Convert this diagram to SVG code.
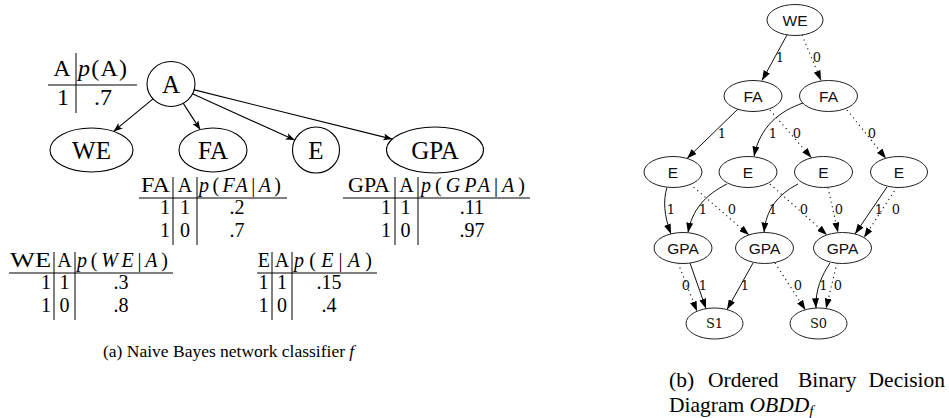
<svg xmlns="http://www.w3.org/2000/svg" width="949" height="418" viewBox="0 0 949 418">
<defs>
<style>
.n{fill:#fff;stroke:#000;stroke-width:1.1}
.bn{fill:#fff;stroke:#222;stroke-width:1}
.nl{font-family:"Liberation Serif","Times New Roman",serif;font-size:25px;text-anchor:middle;fill:#000}
.t{font-family:"Liberation Serif","Times New Roman",serif;font-size:20px;fill:#000}
.tb{font-family:"Liberation Serif","Times New Roman",serif;font-size:24px;fill:#000}
.m{text-anchor:middle}
.e{text-anchor:end}
.i{font-style:italic}
.rule{stroke:#000;stroke-width:1}
.le{fill:none;stroke:#000;stroke-width:1.1;marker-end:url(#la)}
.bs{fill:none;stroke:#111;stroke-width:1;marker-end:url(#ga)}
.bd{fill:none;stroke:#111;stroke-width:1.1;stroke-dasharray:1.2 3.6;marker-end:url(#ga)}
.bl{font-family:"Liberation Sans",Arial,sans-serif;font-size:15.5px;text-anchor:middle;fill:#111}
.sl{font-family:"DejaVu Serif",serif;font-size:13px;text-anchor:middle;fill:#111}
.el{font-family:"DejaVu Serif",serif;font-size:13px;text-anchor:middle;fill:#111}
.cap{font-family:"Liberation Serif","Times New Roman",serif;font-size:17.5px;fill:#000}
.capb{font-family:"Liberation Serif","Times New Roman",serif;font-size:21.5px;fill:#000}
</style>
<marker id="la" viewBox="0 0 9 7" refX="9" refY="3.5" markerWidth="9" markerHeight="7" orient="auto" markerUnits="userSpaceOnUse">
<path d="M0,0 L9,3.5 L0,7 L2.2,3.5 z" fill="#000"/>
</marker>
<marker id="ga" viewBox="0 0 10 7" refX="10" refY="3.5" markerWidth="10" markerHeight="7" orient="auto" markerUnits="userSpaceOnUse">
<path d="M0,0 L10,3.5 L0,7 z" fill="#000"/>
</marker>
</defs>
<rect width="949" height="418" fill="#fff"/>

<!-- Left: Naive Bayes network -->
<g id="connectors-a">
<path class="le" d="M153.3,98.7 L113.6,131.4"/>
<path class="le" d="M183.3,103.4 L200.2,129.6"/>
<path class="le" d="M191.9,93.5 L294.7,140.1"/>
<path class="le" d="M193.3,89.6 L392.2,139.1"/>
</g>
<g id="node-A"><ellipse class="n" cx="171" cy="84" rx="24" ry="22.5"/><text class="nl" x="171" y="92.5">A</text></g>
<g id="node-WE"><ellipse class="n" cx="91.5" cy="150" rx="41.5" ry="22"/><text class="nl" x="91.5" y="158.5">WE</text></g>
<g id="node-FA"><ellipse class="n" cx="213" cy="150" rx="34" ry="22"/><text class="nl" x="213" y="158.5">FA</text></g>
<g id="node-E"><ellipse class="n" cx="316" cy="150" rx="23.5" ry="23"/><text class="nl" x="316" y="158.5">E</text></g>
<g id="node-GPA"><ellipse class="n" cx="435" cy="150" rx="48.5" ry="23"/><text class="nl" x="435" y="158.5">GPA</text></g>

<!-- Tables -->
<g id="table-A">
<line class="rule" x1="76" y1="53" x2="76" y2="113"/>
<line class="rule" x1="48" y1="85" x2="137" y2="85"/>
<text class="tb m" x="62" y="76">A</text>
<text class="tb" x="78" y="76" textLength="49"><tspan class="i">p</tspan>(A)</text>
<text class="tb e" x="69" y="105">1</text>
<text class="tb m" x="103" y="105">.7</text>
</g>

<g id="table-FA">
<line class="rule" x1="173" y1="177" x2="173" y2="245"/>
<line class="rule" x1="197" y1="177" x2="197" y2="245"/>
<line class="rule" x1="139" y1="198" x2="287" y2="198"/>
<text class="t" x="141" y="192" textLength="29" lengthAdjust="spacingAndGlyphs">FA</text>
<text class="t m" x="185" y="192">A</text>
<text class="t" x="199" y="192" textLength="82"><tspan class="i">p</tspan>(<tspan class="i">FA</tspan>|<tspan class="i">A</tspan>)</text>
<text class="t e" x="170" y="214">1</text><text class="t m" x="185" y="214">1</text><text class="t m" x="237" y="214">.2</text>
<text class="t e" x="170" y="237">1</text><text class="t m" x="185" y="237">0</text><text class="t m" x="237" y="237">.7</text>
</g>

<g id="table-GPA">
<line class="rule" x1="395" y1="177" x2="395" y2="245"/>
<line class="rule" x1="418" y1="177" x2="418" y2="245"/>
<line class="rule" x1="343" y1="198" x2="530" y2="198"/>
<text class="t" x="348" y="192" textLength="42" lengthAdjust="spacingAndGlyphs">GPA</text>
<text class="t m" x="406.5" y="192">A</text>
<text class="t" x="421" y="192" textLength="104"><tspan class="i">p</tspan>(<tspan class="i">GPA</tspan>|<tspan class="i">A</tspan>)</text>
<text class="t e" x="391" y="214">1</text><text class="t m" x="405.5" y="214">1</text><text class="t m" x="472" y="214">.11</text>
<text class="t e" x="391" y="237">1</text><text class="t m" x="405.5" y="237">0</text><text class="t m" x="472" y="237">.97</text>
</g>

<g id="table-WE">
<line class="rule" x1="54" y1="252" x2="54" y2="320"/>
<line class="rule" x1="75" y1="252" x2="75" y2="320"/>
<line class="rule" x1="9" y1="273" x2="173" y2="273"/>
<text class="t" x="10" y="267" textLength="41" lengthAdjust="spacingAndGlyphs">WE</text>
<text class="t m" x="64.5" y="267">A</text>
<text class="t" x="77" y="267" textLength="91"><tspan class="i">p</tspan>(<tspan class="i">WE</tspan>|<tspan class="i">A</tspan>)</text>
<text class="t e" x="51" y="289">1</text><text class="t m" x="64.5" y="289">1</text><text class="t m" x="121" y="289">.3</text>
<text class="t e" x="51" y="312">1</text><text class="t m" x="64.5" y="312">0</text><text class="t m" x="121" y="312">.8</text>
</g>

<g id="table-E">
<line class="rule" x1="272" y1="252" x2="272" y2="320"/>
<line class="rule" x1="292" y1="252" x2="292" y2="320"/>
<line class="rule" x1="257" y1="273" x2="377" y2="273"/>
<text class="t e" x="270" y="267">E</text>
<text class="t m" x="282" y="267">A</text>
<text class="t" x="294" y="267" textLength="78"><tspan class="i">p</tspan>(<tspan class="i">E</tspan>|<tspan class="i">A</tspan>)</text>
<text class="t e" x="268.5" y="289">1</text><text class="t m" x="282" y="289">1</text><text class="t m" x="329" y="289">.15</text>
<text class="t e" x="268.5" y="312">1</text><text class="t m" x="282" y="312">0</text><text class="t m" x="329" y="312">.4</text>
</g>

<text class="cap" x="103" y="357">(a) Naive Bayes network classifier <tspan class="i">f</tspan></text>

<!-- Right: OBDD -->
<g id="connectors-b">
<path class="bs" d="M787,35 L762,80.5"/>
<path class="bd" d="M802,35 L821,80.5"/>
<path class="bs" d="M738,109 L687,158.5"/>
<path class="bd" d="M770,110 L811.5,157.8"/>
<path class="bs" d="M803,103 C780,111 760,126 754,156.5"/>
<path class="bd" d="M847,110 L886,158.5"/>
<path class="bs" d="M667,187.5 C663,200 664,216 671,234"/>
<path class="bd" d="M690,184 L749,235"/>
<path class="bs" d="M727,184 C705,195 692,210 688,232.7"/>
<path class="bd" d="M770,184 L827,235"/>
<path class="bs" d="M798,184 C777,195 766,210 764,232.5"/>
<path class="bd" d="M828,187.5 L838,232.5"/>
<path class="bs" d="M887,187 L855,234"/>
<path class="bd" d="M897,187 L864,237.6"/>
<path class="bd" d="M678,263 L697,311.3"/>
<path class="bs" d="M690,263 L706,308.7"/>
<path class="bs" d="M753,263 L727,309.6"/>
<path class="bd" d="M775,263 L805.5,310"/>
<path class="bs" d="M830,263 C822,275 815,290 816,308.2"/>
<path class="bd" d="M837,263 L826,308.5"/>
<text class="el" x="780" y="61.5">1</text>
<text class="el" x="817" y="61.5">0</text>
<text class="el" x="722" y="137.5">1</text>
<text class="el" x="773" y="137.5">1</text>
<text class="el" x="797" y="137.5">0</text>
<text class="el" x="872" y="137.5">0</text>
<text class="el" x="671" y="213.5">1</text>
<text class="el" x="703" y="213.5">1</text>
<text class="el" x="732" y="213.5">0</text>
<text class="el" x="773" y="213.5">1</text>
<text class="el" x="804" y="213.5">0</text>
<text class="el" x="839" y="213.5">0</text>
<text class="el" x="879" y="213.5">1</text>
<text class="el" x="896" y="213.5">0</text>
<text class="el" x="686" y="289.5">0</text>
<text class="el" x="703" y="289.5">1</text>
<text class="el" x="745" y="289.5">1</text>
<text class="el" x="798" y="289.5">0</text>
<text class="el" x="823.5" y="289.5">1</text>
<text class="el" x="838" y="289.5">0</text>
</g>
<g id="b-WE"><ellipse class="bn" cx="795" cy="20" rx="28" ry="15.5"/><text class="bl" x="795" y="25.5">WE</text></g>
<g id="b-FA1"><ellipse class="bn" cx="753" cy="96" rx="29" ry="15.5"/><text class="bl" x="753" y="101.5">FA</text></g>
<g id="b-FA2"><ellipse class="bn" cx="828.5" cy="96" rx="29" ry="15.5"/><text class="bl" x="828.5" y="101.5">FA</text></g>
<g id="b-E1"><ellipse class="bn" cx="673" cy="172" rx="29" ry="15.5"/><text class="bl" x="673" y="177.5">E</text></g>
<g id="b-E2"><ellipse class="bn" cx="748" cy="172" rx="29" ry="15.5"/><text class="bl" x="748" y="177.5">E</text></g>
<g id="b-E3"><ellipse class="bn" cx="823.5" cy="172" rx="29" ry="15.5"/><text class="bl" x="823.5" y="177.5">E</text></g>
<g id="b-E4"><ellipse class="bn" cx="899" cy="172" rx="28.5" ry="15.5"/><text class="bl" x="899" y="177.5">E</text></g>
<g id="b-GPA1"><ellipse class="bn" cx="683" cy="248" rx="29" ry="15.5"/><text class="bl" x="683" y="253.5">GPA</text></g>
<g id="b-GPA2"><ellipse class="bn" cx="764.5" cy="248" rx="29" ry="15.5"/><text class="bl" x="764.5" y="253.5">GPA</text></g>
<g id="b-GPA3"><ellipse class="bn" cx="842.5" cy="248" rx="29" ry="15.5"/><text class="bl" x="842.5" y="253.5">GPA</text></g>
<g id="b-S1"><ellipse class="bn" cx="714.5" cy="323.5" rx="28.5" ry="15.5"/><text class="sl" x="714.5" y="328">S1</text></g>
<g id="b-S0"><ellipse class="bn" cx="818.5" cy="323.5" rx="28.5" ry="15.5"/><text class="sl" x="818.5" y="328">S0</text></g>

<g id="caption-b">
<text class="capb" x="669" y="387">(b)</text>
<text class="capb" x="708" y="387">Ordered</text>
<text class="capb" x="798" y="387">Binary</text>
<text class="capb" x="945" y="387" text-anchor="end">Decision</text>
<text class="capb" x="669" y="412">Diagram <tspan class="i">OBDD</tspan><tspan class="i" font-size="15px" dy="4">f</tspan></text>
</g>
</svg>
